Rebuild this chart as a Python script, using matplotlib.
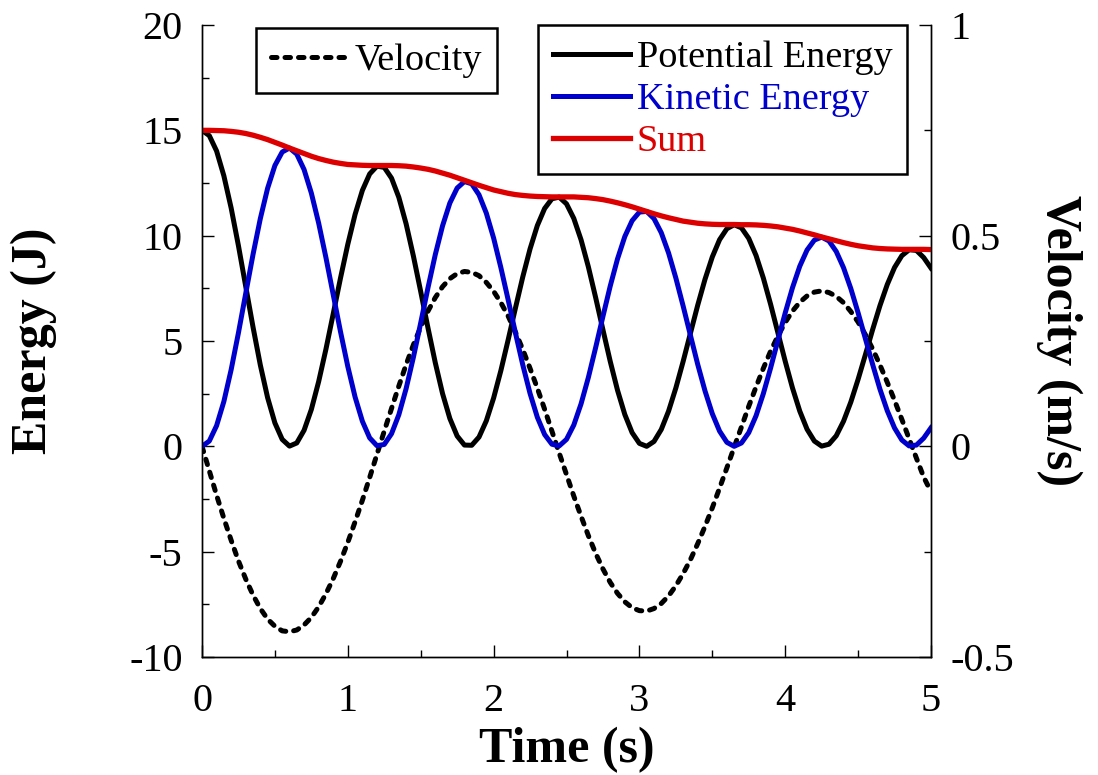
import matplotlib
matplotlib.use("Agg")
import matplotlib.pyplot as plt
from matplotlib.ticker import MultipleLocator

plt.rcParams['font.family'] = ['Liberation Serif', 'DejaVu Serif']
plt.rcParams['axes.unicode_minus'] = False

# sample times (s)
time = [0.00, 0.05, 0.10, 0.15, 0.20, 0.25, 0.30, 0.35, 0.40, 0.45,
        0.50, 0.55, 0.60, 0.65, 0.70, 0.75, 0.80, 0.85, 0.90, 0.95,
        1.00, 1.05, 1.10, 1.15, 1.20, 1.25, 1.30, 1.35, 1.40, 1.45,
        1.50, 1.55, 1.60, 1.65, 1.70, 1.75, 1.80, 1.85, 1.90, 1.95,
        2.00, 2.05, 2.10, 2.15, 2.20, 2.25, 2.30, 2.35, 2.40, 2.45,
        2.50, 2.55, 2.60, 2.65, 2.70, 2.75, 2.80, 2.85, 2.90, 2.95,
        3.00, 3.05, 3.10, 3.15, 3.20, 3.25, 3.30, 3.35, 3.40, 3.45,
        3.50, 3.55, 3.60, 3.65, 3.70, 3.75, 3.80, 3.85, 3.90, 3.95,
        4.00, 4.05, 4.10, 4.15, 4.20, 4.25, 4.30, 4.35, 4.40, 4.45,
        4.50, 4.55, 4.60, 4.65, 4.70, 4.75, 4.80, 4.85, 4.90, 4.95,
        5.00]

# energies (J)
potential = [15.00, 14.75, 14.02, 12.84, 11.31, 9.52, 7.59, 5.66, 3.86, 2.31,
             1.11, 0.33, 0.01, 0.16, 0.76, 1.75, 3.07, 4.61, 6.29, 7.99,
             9.59, 11.01, 12.15, 12.93, 13.30, 13.24, 12.73, 11.82, 10.56, 9.03,
             7.35, 5.62, 3.97, 2.50, 1.32, 0.49, 0.06, 0.05, 0.44, 1.21,
             2.29, 3.60, 5.06, 6.57, 8.04, 9.37, 10.48, 11.29, 11.75, 11.83,
             11.51, 10.82, 9.80, 8.52, 7.06, 5.53, 4.03, 2.66, 1.51, 0.65,
             0.14, 0.00, 0.23, 0.80, 1.67, 2.77, 4.03, 5.37, 6.70, 7.93,
             8.99, 9.81, 10.33, 10.52, 10.37, 9.87, 9.06, 7.99, 6.74, 5.39,
             4.04, 2.77, 1.67, 0.81, 0.25, 0.01, 0.10, 0.50, 1.19, 2.10,
             3.18, 4.35, 5.55, 6.68, 7.68, 8.49, 9.05, 9.33, 9.30, 8.96,
             8.46]
kinetic = [0.00, 0.25, 0.98, 2.13, 3.64, 5.39, 7.26, 9.11, 10.81, 12.25,
           13.33, 13.97, 14.16, 13.87, 13.14, 12.02, 10.60, 8.96, 7.20, 5.44,
           3.79, 2.34, 1.19, 0.40, 0.03, 0.09, 0.60, 1.50, 2.74, 4.23,
           5.86, 7.53, 9.10, 10.47, 11.55, 12.26, 12.57, 12.46, 11.94, 11.07,
           9.89, 8.48, 6.95, 5.38, 3.87, 2.51, 1.38, 0.56, 0.10, 0.02,
           0.33, 1.01, 2.02, 3.27, 4.69, 6.17, 7.61, 8.90, 9.96, 10.71,
           11.12, 11.15, 10.81, 10.14, 9.18, 7.99, 6.66, 5.27, 3.89, 2.63,
           1.55, 0.72, 0.19, 0.00, 0.16, 0.65, 1.45, 2.50, 3.72, 5.03,
           6.33, 7.53, 8.55, 9.32, 9.79, 9.93, 9.75, 9.25, 8.48, 7.49,
           6.34, 5.11, 3.88, 2.71, 1.69, 0.87, 0.30, 0.02, 0.06, 0.39,
           0.88]
total = [15.00, 15.00, 14.99, 14.98, 14.95, 14.91, 14.85, 14.77, 14.67, 14.56,
         14.43, 14.30, 14.16, 14.03, 13.90, 13.77, 13.66, 13.57, 13.49, 13.43,
         13.38, 13.36, 13.34, 13.33, 13.33, 13.33, 13.33, 13.32, 13.30, 13.26,
         13.21, 13.15, 13.07, 12.97, 12.87, 12.75, 12.63, 12.51, 12.39, 12.28,
         12.17, 12.09, 12.01, 11.95, 11.91, 11.88, 11.86, 11.85, 11.84, 11.84,
         11.84, 11.84, 11.82, 11.80, 11.76, 11.71, 11.64, 11.56, 11.47, 11.37,
         11.26, 11.15, 11.04, 10.94, 10.85, 10.77, 10.69, 10.64, 10.59, 10.56,
         10.54, 10.53, 10.53, 10.53, 10.52, 10.52, 10.51, 10.49, 10.46, 10.42,
         10.36, 10.30, 10.22, 10.13, 10.04, 9.94, 9.85, 9.76, 9.67, 9.59,
         9.52, 9.47, 9.42, 9.39, 9.37, 9.36, 9.35, 9.35, 9.35, 9.35,
         9.34]

# velocity (m/s)
velocity = [0.000, -0.058, -0.116, -0.171, -0.223, -0.272, -0.315, -0.353, -0.385, -0.410,
            -0.427, -0.438, -0.440, -0.436, -0.424, -0.406, -0.381, -0.350, -0.314, -0.273,
            -0.228, -0.179, -0.128, -0.074, -0.019, 0.036, 0.090, 0.143, 0.194, 0.241,
            0.283, 0.321, 0.353, 0.379, 0.398, 0.410, 0.415, 0.413, 0.405, 0.389,
            0.368, 0.341, 0.309, 0.271, 0.230, 0.185, 0.138, 0.088, 0.036, -0.016,
            -0.067, -0.118, -0.166, -0.212, -0.254, -0.291, -0.323, -0.349, -0.369, -0.383,
            -0.390, -0.391, -0.385, -0.373, -0.355, -0.331, -0.302, -0.269, -0.231, -0.190,
            -0.146, -0.099, -0.051, -0.002, 0.046, 0.095, 0.141, 0.185, 0.226, 0.262,
            0.294, 0.321, 0.342, 0.357, 0.366, 0.369, 0.365, 0.356, 0.341, 0.320,
            0.295, 0.265, 0.231, 0.193, 0.152, 0.109, 0.064, 0.018, -0.028, -0.073,
            -0.108]

time_ticks = [0, 1, 2, 3, 4, 5]
energy_ticks = [-10, -5, 0, 5, 10, 15, 20]
velocity_ticks = [-0.5, 0, 0.5, 1]
velocity_labels = ["-0.5", "0", "0.5", "1"]

fig = plt.figure(figsize=(10.98, 7.75), dpi=100)
ax = fig.add_axes([202 / 1098, 1 - 657 / 775, 729 / 1098, 632 / 775])
ax2 = ax.twinx()
ax.set_zorder(ax2.get_zorder() + 1)
ax.patch.set_visible(False)

l_vel, = ax2.plot(time, velocity, color='black', lw=3.6, ls=(0, (1.1, 1.6)),
                  dash_capstyle='round', label='Velocity')
l_pe, = ax.plot(time, potential, color='black', lw=3.6, label='Potential Energy')
l_ke, = ax.plot(time, kinetic, color='#0000cc', lw=3.6, label='Kinetic Energy')
l_sum, = ax.plot(time, total, color='#dd0000', lw=3.8, label='Sum')

ax.set_xlim(0, 5)
ax.set_ylim(-10, 20)
ax2.set_ylim(-0.5, 1)

for a in (ax, ax2):
    a.spines['top'].set_visible(False)
    for s in ('left', 'right', 'bottom'):
        a.spines[s].set_linewidth(1.0)

ax.set_xticks(time_ticks)
ax.xaxis.set_minor_locator(MultipleLocator(0.5))
ax.set_yticks(energy_ticks)
ax.yaxis.set_minor_locator(MultipleLocator(2.5))
ax2.set_yticks(velocity_ticks, labels=velocity_labels)
ax2.yaxis.set_minor_locator(MultipleLocator(0.25))

for a in (ax, ax2):
    a.tick_params(which='both', direction='in', width=1.0, labelsize=29, pad=14)
    a.tick_params(which='major', length=8.6)
    a.tick_params(which='minor', length=5)
ax.tick_params(axis='x', which='both', top=False, pad=19)
ax.tick_params(axis='y', which='both', right=False)

ax.set_xlabel('Time (s)', fontsize=36, fontweight='bold')
ax.set_ylabel('Energy (J)', fontsize=36, fontweight='bold')
ax2.set_ylabel('Velocity (m/s)', fontsize=36, fontweight='bold', rotation=270, va='bottom')
ax.xaxis.set_label_coords(0.5, -0.11)
ax.yaxis.set_label_coords(-0.199, 0.5)
ax2.yaxis.set_label_coords(1.144, 0.5)

leg_kw = dict(loc='upper left', bbox_transform=fig.transFigure, fontsize=27.5,
              frameon=True, fancybox=False, edgecolor='black', framealpha=1,
              borderpad=0.4, borderaxespad=0, handlelength=2.0, handletextpad=0.18,
              labelspacing=0.19, labelcolor='linecolor')
leg1 = ax2.legend(handles=[l_vel], bbox_to_anchor=(256 / 1098, 1 - 28 / 775), **leg_kw)
leg1.get_frame().set_linewidth(1.8)
leg2 = ax.legend(handles=[l_pe, l_ke, l_sum], bbox_to_anchor=(538 / 1098, 1 - 25 / 775), **leg_kw)
leg2.get_frame().set_linewidth(1.8)

fig.savefig('out.png', dpi=100)
